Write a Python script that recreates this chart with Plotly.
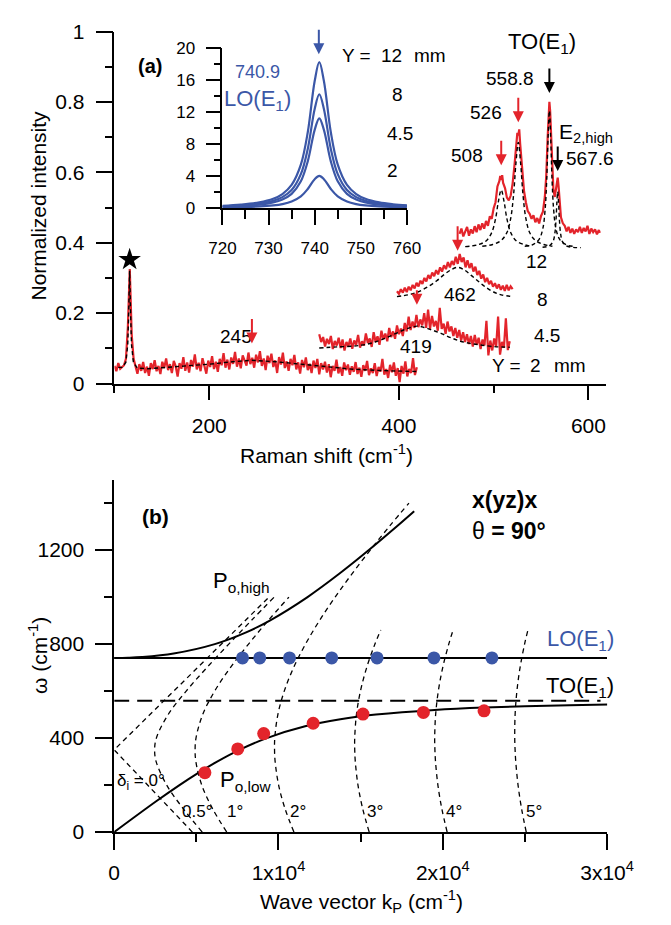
import numpy as np
import plotly.graph_objects as go

W, H = 671, 925
RED = "#e3242b"
BLUE = "#3b57a7"
FONT = "Liberation Sans, Arial, Helvetica, sans-serif"

# ---------------- (a) Raman spectra, stacked by position Y ----------------
spec_y2_span = (100, 419)
spec_y2 = [
    0.050, 0.035, 0.058, 0.042, 0.047, 0.052, 0.070, 0.160, 0.325, 0.140, 0.070, 0.050,
    0.028, 0.055, 0.036, 0.061, 0.030, 0.048, 0.022, 0.058, 0.041, 0.066, 0.035, 0.050, 0.027, 0.062,
    0.044, 0.071, 0.038, 0.055, 0.030, 0.064, 0.049, 0.020, 0.058, 0.042, 0.075, 0.036, 0.060,
    0.031, 0.067, 0.048, 0.083, 0.040, 0.059, 0.035, 0.072, 0.050, 0.028, 0.065, 0.047,
    0.078, 0.041, 0.062, 0.033, 0.070, 0.052, 0.086, 0.045, 0.068, 0.040, 0.074, 0.056, 0.090,
    0.048, 0.071, 0.043, 0.080, 0.062, 0.051, 0.088, 0.055, 0.073, 0.045, 0.082, 0.060,
    0.092, 0.050, 0.071, 0.038, 0.079, 0.058, 0.085, 0.047, 0.066, 0.030, 0.075, 0.054, 0.088,
    0.044, 0.063, 0.036, 0.070, 0.052, 0.081, 0.040, 0.060, 0.028, 0.067, 0.046, 0.074,
    0.038, 0.056, 0.030, 0.065, 0.044, 0.070, 0.026, 0.058, 0.040, 0.062, 0.031, 0.055, 0.018,
    0.050, 0.036, 0.068, 0.029, 0.047, 0.022, 0.060, 0.038, 0.054, 0.025, 0.049, 0.033,
    0.061, 0.027, 0.045, 0.019, 0.052, 0.036, 0.064, 0.024, 0.043, 0.030, 0.058, 0.021, 0.047,
    0.034, 0.070, 0.025, 0.041, 0.016, 0.053, 0.032, 0.060, 0.022, 0.044, 0.004, 0.050, 0.028,
    0.063, 0.020, 0.041, 0.030, 0.072, 0.024, 0.046,
]
fit_y2_x = [104, 108, 112, 114, 115, 116, 117, 118, 120, 124, 135, 150, 175, 200, 225, 245,
            270, 300, 325, 350, 380, 419]
fit_y2 = [0.046, 0.046, 0.060, 0.110, 0.200, 0.320, 0.200, 0.110, 0.060, 0.044, 0.042, 0.045,
          0.049, 0.055, 0.062, 0.066, 0.062, 0.054, 0.046, 0.041, 0.037, 0.034]
star_peak = (116, 0.352)

spec_y45_span = (316, 517)
spec_y45 = [
    0.140, 0.118, 0.132, 0.105, 0.127, 0.112, 0.135, 0.098, 0.121, 0.108,
    0.130, 0.101, 0.125, 0.094, 0.118, 0.106, 0.128, 0.099, 0.122, 0.110,
    0.138, 0.102, 0.120, 0.108, 0.142, 0.115, 0.128, 0.104, 0.146, 0.118,
    0.134, 0.110, 0.150, 0.126, 0.142, 0.120, 0.158, 0.132, 0.148, 0.127,
    0.165, 0.140, 0.156, 0.135, 0.172, 0.148, 0.190, 0.152, 0.176, 0.158,
    0.195, 0.160, 0.182, 0.165, 0.200, 0.158, 0.210, 0.155, 0.192, 0.162,
    0.178, 0.150, 0.215, 0.155, 0.170, 0.141, 0.176, 0.148, 0.162, 0.135,
    0.158, 0.130, 0.152, 0.122, 0.146, 0.118, 0.140, 0.112, 0.135, 0.105,
    0.138, 0.110, 0.130, 0.098, 0.125, 0.108, 0.178, 0.080, 0.122, 0.094,
    0.128, 0.105, 0.190, 0.082, 0.118, 0.102, 0.185, 0.095, 0.120,
]
fit_y45_x = [316, 335, 355, 365, 375, 385, 395, 405, 412, 419, 426, 435, 445, 455, 465, 475,
             485, 500, 517]
fit_y45 = [0.101, 0.104, 0.107, 0.111, 0.118, 0.128, 0.140, 0.152, 0.159, 0.163, 0.160, 0.152,
           0.142, 0.130, 0.120, 0.114, 0.110, 0.105, 0.103]

spec_y8_span = (398, 520)
spec_y8 = [
    0.262, 0.255, 0.268, 0.258, 0.272, 0.260, 0.275, 0.265, 0.280, 0.270,
    0.286, 0.276, 0.292, 0.283, 0.300, 0.290, 0.308, 0.298, 0.315, 0.305,
    0.322, 0.310, 0.330, 0.318, 0.336, 0.325, 0.345, 0.330, 0.348, 0.337,
    0.360, 0.340, 0.368, 0.345, 0.358, 0.330, 0.350, 0.328, 0.342, 0.318,
    0.332, 0.308, 0.320, 0.298, 0.310, 0.288, 0.300, 0.282, 0.292, 0.275,
    0.285, 0.270, 0.282, 0.266, 0.278, 0.263, 0.280, 0.265, 0.276, 0.268,
]
fit_y8_x = [398, 410, 420, 430, 440, 448, 455, 462, 469, 476, 484, 492, 500, 508, 520]
fit_y8 = [0.247, 0.252, 0.260, 0.274, 0.292, 0.310, 0.323, 0.330, 0.323, 0.308, 0.290, 0.273,
          0.260, 0.252, 0.247]

spec_y12_x = [464, 466, 468, 470, 472, 474, 476, 478, 480, 482, 484, 486, 488, 490, 492, 494,
              496, 498, 500, 502, 504, 506, 507, 508, 509, 510, 512, 514, 516, 518, 520, 522,
              524, 525, 526, 527, 528, 530, 532, 534, 536, 538, 540, 542, 544, 546, 548, 550,
              552, 554, 555.5, 557, 558, 558.8, 559.6, 560.5, 561.5, 563, 564.5, 565.8, 566.7,
              567.6, 568.5, 569.5, 571, 573, 575, 577, 579, 581, 583, 585, 587, 589, 591, 593,
              595, 597, 599, 601, 603, 605, 607, 609, 611, 612]
spec_y12 = [0.425, 0.440, 0.418, 0.432, 0.445, 0.420, 0.438, 0.426, 0.447, 0.430, 0.452, 0.436,
            0.455, 0.440, 0.462, 0.448, 0.475, 0.468, 0.498, 0.515, 0.560, 0.575, 0.590, 0.578,
            0.592, 0.570, 0.555, 0.528, 0.520, 0.534, 0.568, 0.620, 0.685, 0.712, 0.705, 0.722,
            0.680, 0.612, 0.548, 0.515, 0.490, 0.482, 0.468, 0.478, 0.458, 0.470, 0.455, 0.476,
            0.488, 0.530, 0.590, 0.700, 0.780, 0.800, 0.775, 0.700, 0.625, 0.552, 0.530, 0.550,
            0.575, 0.585, 0.560, 0.510, 0.472, 0.455, 0.448, 0.432, 0.445, 0.428, 0.440, 0.425,
            0.438, 0.430, 0.445, 0.428, 0.442, 0.432, 0.448, 0.425, 0.440, 0.430, 0.438, 0.424,
            0.436, 0.428]
# Lorentzian components fitted to the Y = 12 mm spectrum
comp508_x = [470, 483, 492, 498, 502, 505, 508, 511, 514, 518, 524, 533, 540]
comp508_y = [0.389, 0.394, 0.405, 0.429, 0.468, 0.517, 0.550, 0.517, 0.468, 0.429, 0.405, 0.394, 0.390]
comp526_x = [488, 499, 508, 514, 518, 521, 523.5, 526, 528.5, 531, 534, 538, 544, 553, 562]
comp526_y = [0.390, 0.395, 0.4065, 0.429, 0.469, 0.535, 0.625, 0.685, 0.625, 0.535, 0.469, 0.429,
             0.4065, 0.395, 0.390]
compTO_x = [532.8, 540.8, 547.8, 551.8, 554.3, 556, 557.4, 558.8, 560.2, 561.6, 563.3, 565.8,
            569.8, 576.8, 584.8]
compTO_y = [0.3895, 0.394, 0.409, 0.439, 0.494, 0.580, 0.697, 0.775, 0.697, 0.580, 0.494, 0.439,
            0.409, 0.394, 0.3895]
compE2_x = [551.6, 558.6, 562.6, 564.6, 565.8, 566.7, 567.6, 568.5, 569.4, 570.6, 572.6, 576.6,
            583.6, 592]
compE2_y = [0.387, 0.391, 0.403, 0.427, 0.465, 0.513, 0.545, 0.513, 0.465, 0.427, 0.403, 0.391,
            0.387, 0.386]

# peak positions marked with arrows: (position, arrow-head height)
red_marks = [(245, 0.114), (419, 0.224), (462, 0.377), (508, 0.620), (526, 0.742)]
black_marks = [(558.8, 0.825), (567.6, 0.604)]

# ---------------- inset: LO(E1) band for each Y ----------------
lo_shift = [720, 724, 728, 731, 733, 735, 737, 738.5, 740, 741, 742, 743.5, 745, 747, 749, 751,
            754, 757, 760]
lo_y12 = [0.27, 0.42, 0.70, 1.15, 1.74, 2.88, 5.41, 9.46, 15.85, 18.2, 15.85, 9.46, 5.41, 2.88,
          1.74, 1.15, 0.70, 0.47, 0.33]
lo_y8 = [0.21, 0.33, 0.55, 0.90, 1.36, 2.24, 4.22, 7.38, 12.37, 14.2, 12.37, 7.38, 4.22, 2.24,
         1.36, 0.90, 0.55, 0.36, 0.26]
lo_y45 = [0.17, 0.26, 0.43, 0.71, 1.07, 1.77, 3.33, 5.82, 9.76, 11.2, 9.76, 5.82, 3.33, 1.77,
          1.07, 0.71, 0.43, 0.29, 0.21]
lo_y2 = [0.08, 0.12, 0.20, 0.33, 0.49, 0.80, 1.44, 2.37, 3.60, 4.0, 3.60, 2.37, 1.44, 0.80,
         0.49, 0.33, 0.20, 0.14, 0.10]
lo_peak = (740.9, 19.2)

# ---------------- (b) polariton dispersion ----------------
lower_k = [0, 2536, 3975, 5073, 6266, 7626, 9290, 11620, 13766, 15930, 19500, 22527, 27700, 30160]
lower_w = [0, 130, 200, 250, 300, 350, 400, 450, 480, 500, 520, 530, 540, 543]
upper_k = [0, 851, 1696, 3620, 6122, 8032, 9470, 11768, 13716, 15500, 17193, 18260]
upper_w = [741, 742, 745, 760, 800, 850, 900, 1000, 1100, 1200, 1300, 1365]
lo_k = [0, 30000]
lo_w = [740.9, 740.9]
to_k = [0, 29600]
to_w = [558.8, 558.8]

# kinematic curves for internal angles delta_i
d0_k = [4760, 0, 9425]
d0_w = [0, 350, 1000]
w_small = [0, 100, 200, 300, 350, 400, 500, 600, 700, 800, 900, 1000]
d05_k = [5359, 4198, 3197, 2554, 2462, 2566, 3285, 4382, 5641, 6974, 8346, 9741]
d1_k = [6850, 5985, 5331, 4972, 4925, 4979, 5384, 6116, 7073, 8176, 9373, 10634]
w_d2 = [0, 100, 200, 300, 350, 400, 500, 600, 700, 800, 900, 1000, 1100, 1200, 1300, 1400]
d2_k = [10940, 10396, 10008, 9796, 9760, 9774, 9962, 10351, 10921, 11645, 12495, 13448, 14484,
        15587, 16741, 17939]
w_large = [0, 100, 200, 300, 350, 400, 500, 600, 700, 800, 860]
d3_k = [15522, 15122, 14838, 14675, 14640, 14639, 14744, 14989, 15367, 15870, 16226]
d4_k = [20265, 19939, 19702, 19557, 19520, 19507, 19564, 19728, 19995, 20363, 20629]
d5_k = [25079, 24793, 24580, 24440, 24400, 24379, 24401, 24510, 24702, 24978, 25182]

lo_meas_k = [7810, 8860, 10670, 13240, 16000, 19460, 22990]
lo_meas_w = [740.9] * 7
low_meas_k = [5520, 7520, 9100, 12110, 15140, 18820, 22510]
low_meas_w = [253, 354, 419, 463, 502, 509, 516]

fig = go.Figure()


def line(x, y, ax, color, width, dash=None, shape="linear"):
    fig.add_trace(go.Scatter(
        x=x, y=y, mode="lines", xaxis=ax[0], yaxis=ax[1], showlegend=False, hoverinfo="skip",
        line=dict(color=color, width=width, dash=dash, shape=shape)))


A = ("x", "y")
INS = ("x2", "y2")
B = ("x3", "y3")
FIT_DASH = "4px,3px"

# spectra
line(np.linspace(*spec_y2_span, len(spec_y2)), spec_y2, A, RED, 2.2)
line(np.linspace(*spec_y45_span, len(spec_y45)), spec_y45, A, RED, 2.2)
line(np.linspace(*spec_y8_span, len(spec_y8)), spec_y8, A, RED, 2.2)
line(spec_y12_x, spec_y12, A, RED, 2.2)
# fits
line(fit_y2_x, fit_y2, A, "black", 1.4, FIT_DASH)
line(fit_y45_x, fit_y45, A, "black", 1.4, FIT_DASH, "spline")
line(fit_y8_x, fit_y8, A, "black", 1.4, FIT_DASH, "spline")
for cx, cy in [(comp508_x, comp508_y), (comp526_x, comp526_y), (compTO_x, compTO_y),
               (compE2_x, compE2_y)]:
    line(cx, cy, A, "black", 1.4, FIT_DASH, "spline")
fig.add_trace(go.Scatter(x=[star_peak[0]], y=[star_peak[1]], mode="markers", xaxis="x", yaxis="y",
                         showlegend=False, hoverinfo="skip",
                         marker=dict(symbol="star", size=17, color="black")))

# inset
for ys in [lo_y12, lo_y8, lo_y45, lo_y2]:
    line(lo_shift, ys, INS, BLUE, 2.2, None, "spline")

# dispersion
for kx, wy in [(d0_k, d0_w), (d05_k, w_small), (d1_k, w_small), (d2_k, w_d2),
               (d3_k, w_large), (d4_k, w_large), (d5_k, w_large)]:
    line(kx, wy, B, "black", 1.3, "5px,4px", "spline" if len(kx) > 3 else "linear")
line(to_k, to_w, B, "black", 2, "15px,8px")
line(lo_k, lo_w, B, "black", 2)
line(upper_k, upper_w, B, "black", 2, None, "spline")
line(lower_k, lower_w, B, "black", 2, None, "spline")
fig.add_trace(go.Scatter(x=lo_meas_k, y=lo_meas_w, mode="markers", xaxis="x3", yaxis="y3",
                         showlegend=False, hoverinfo="skip",
                         marker=dict(size=13, color=BLUE, line=dict(width=0))))
fig.add_trace(go.Scatter(x=low_meas_k, y=low_meas_w, mode="markers", xaxis="x3", yaxis="y3",
                         showlegend=False, hoverinfo="skip",
                         marker=dict(size=13, color=RED, line=dict(width=0))))


def px_x(p):
    return p / W


def px_y(p):
    return 1 - p / H


def axis(size=21, ticklen=16, minor_len=8, **kw):
    d = dict(showline=True, linecolor="black", linewidth=1.5, ticks="outside", ticklen=ticklen,
             tickwidth=1.5, tickcolor="black", showgrid=False, zeroline=False,
             tickfont=dict(family=FONT, size=size, color="black"), fixedrange=True)
    mn = kw.pop("minor_dtick", None)
    if mn is not None:
        d["minor"] = dict(ticks="outside", ticklen=minor_len, tickwidth=1.5, tickcolor="black",
                          dtick=mn, showgrid=False)
    d.update(kw)
    return d


fig.update_layout(
    width=W, height=H, margin=dict(l=0, r=0, t=0, b=0),
    paper_bgcolor="white", plot_bgcolor="rgba(0,0,0,0)", showlegend=False,
    font=dict(family=FONT, color="black"),
    xaxis=axis(domain=[px_x(107), px_x(631)], range=[100, 619], anchor="y",
               dtick=200, minor_dtick=100, ticklen=15, ticklabelstandoff=8),
    yaxis=axis(domain=[px_y(381), px_y(20)], range=[0, 1], anchor="x",
               dtick=0.2, minor_dtick=0.1, ticklen=17, ticklabelstandoff=7),
    xaxis2=axis(size=17, domain=[px_x(222), px_x(418.5)], range=[720, 760], anchor="y2",
                dtick=10, minor_dtick=5, ticklen=15, minor_len=9, ticklabelstandoff=9),
    yaxis2=axis(size=17, domain=[px_y(201), px_y(36.7)], range=[0, 20], anchor="x2",
                dtick=4, minor_dtick=2, ticklen=15, minor_len=7, ticklabelstandoff=7),
    xaxis3=axis(domain=[px_x(106.7), px_x(631.7)], range=[0, 30000], anchor="y3",
                tickmode="array", tickvals=[0, 10000, 20000, 30000],
                ticktext=["0", "1x10<sup>4</sup>", "2x10<sup>4</sup>", "3x10<sup>4</sup>"],
                minor_dtick=5000, ticklen=16, ticklabelstandoff=5),
    yaxis3=axis(domain=[px_y(841), px_y(479.5)], range=[0, 1500], anchor="x3",
                dtick=400, minor_dtick=200, ticklen=17, ticklabelstandoff=7),
)

anns = []


def text(t, px, py, size=19, color="black", angle=0, xanchor="center"):
    anns.append(dict(text=t, x=px_x(px), y=px_y(py), xref="paper", yref="paper",
                     showarrow=False, textangle=angle, xanchor=xanchor, yanchor="middle",
                     font=dict(family=FONT, size=size, color=color)))


def arrow(x, y, xref, yref, color, ay=-26):
    anns.append(dict(x=x, y=y, xref=xref, yref=yref, ax=0, ay=ay, text="", showarrow=True,
                     arrowhead=2, arrowsize=1.1, arrowwidth=2, arrowcolor=color, standoff=0))


# axis titles
text("Normalized intensity", 26, 198, 21, angle=-90)
text("Raman shift (cm<sup>-1</sup>)", 333, 453, 21)
text("ω (cm<sup>-1</sup>)", 25, 660, 21, angle=-90)
text("Wave vector k<sub>P</sub> (cm<sup>-1</sup>)", 370, 912, 21)

# panel (a) annotations
text("<b>(a)</b>", 145, 55, 20)
text("740.9", 259.5, 61.5, 18, BLUE)
text("LO(E<sub>1</sub>)", 259, 90, 22, BLUE)
text("Y = ", 367, 45)
text("12", 401.7, 45)
text("mm", 443, 45)
text("8", 408, 85)
text("4.5", 410.8, 125)
text("2", 403, 163)
text("TO(E<sub>1</sub>)", 562, 32, 22)
text("558.8", 528.5, 68)
text("526", 502.5, 103)
text("508", 482.5, 147)
text("E<sub>2,high</sub>", 609, 124, 21)
text("567.6", 613.5, 150.5)
text("245", 236, 332.5)
text("419", 428, 343.5)
text("462", 475, 290)
text("12", 556, 255.5)
text("8", 563, 295)
text("4.5", 567.5, 331.7)
text("Y = ", 527.5, 362.5)
text("2", 555, 362.5)
text("mm", 592, 362.5)

for xv, yv in red_marks:
    arrow(xv, yv, "x", "y", RED, -26 if xv != 419 else -16)
for xv, yv in black_marks:
    arrow(xv, yv, "x", "y", "black", -26)
arrow(lo_peak[0], lo_peak[1], "x2", "y2", BLUE, -26)

# panel (b) annotations
text("<b>(b)</b>", 151, 517, 21)
text("<b>x(yz)x</b>", 522, 500, 23)
text("θ <b>= 90°</b>", 527, 532, 23)
text("P<sub>o,high</sub>", 242, 585, 22)
text("LO(E<sub>1</sub>)", 603, 644, 22, BLUE)
text("TO(E<sub>1</sub>)", 603, 692, 22)
text("P<sub>o,low</sub>", 247, 789, 22)
text("δ<sub>i</sub> = 0°", 135, 790, 17)
text("0.5°", 195, 820, 17)
text("1°", 235, 820, 17)
text("2°", 302, 820, 17)
text("3°", 385, 820, 17)
text("4°", 469, 820, 17)
text("5°", 554, 820, 17)

fig.update_layout(annotations=anns)
fig.write_html("out.html")
